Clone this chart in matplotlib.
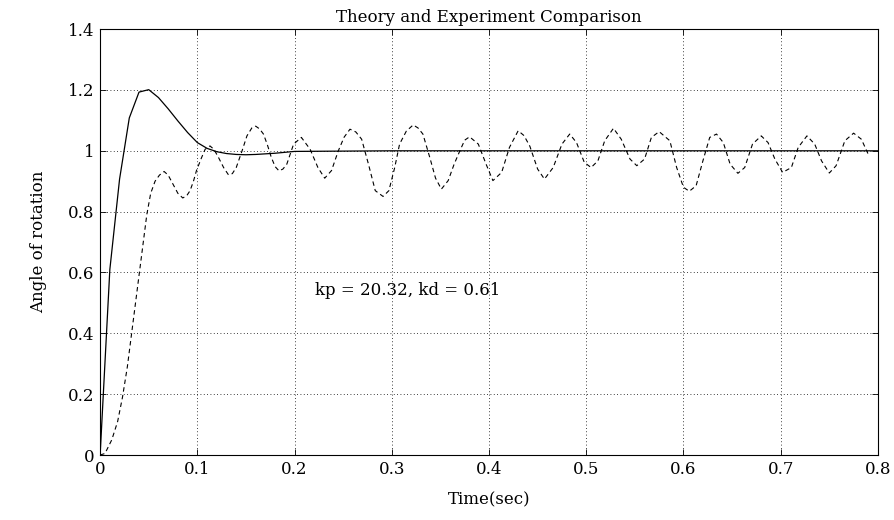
import numpy as np
import matplotlib
matplotlib.use("Agg")
import matplotlib.pyplot as plt
from matplotlib.ticker import FormatStrFormatter

# theory (solid) response
t_theory = [0.0, 0.01, 0.02, 0.03, 0.04, 0.05, 0.06, 0.07, 0.08, 0.09, 0.10,
            0.11, 0.12, 0.13, 0.14, 0.15, 0.16, 0.17, 0.18, 0.19, 0.20, 0.30,
            0.40, 0.50, 0.60, 0.70, 0.80]
y_theory = [0.0, 0.61, 0.907, 1.108, 1.193, 1.201, 1.175, 1.138, 1.098, 1.06,
            1.027, 1.008, 0.997, 0.991, 0.988, 0.987, 0.988, 0.99, 0.992, 0.995,
            0.998, 1.0, 1.0, 1.0, 1.0, 1.0, 1.0]

# experiment (dashed) response
t_exp = [0.0, 0.005, 0.012, 0.018, 0.023, 0.028, 0.032, 0.036, 0.040, 0.044,
         0.048, 0.052, 0.0565, 0.061, 0.0658, 0.070, 0.075, 0.080, 0.085, 0.089,
         0.0925, 0.096, 0.099, 0.104, 0.108, 0.113, 0.117, 0.1216, 0.127, 0.132,
         0.136, 0.140, 0.146, 0.151, 0.156, 0.160, 0.164, 0.168, 0.172, 0.176,
         0.180, 0.184, 0.188, 0.192, 0.199, 0.207, 0.216, 0.224, 0.231, 0.238,
         0.245, 0.251, 0.257, 0.263, 0.269, 0.276, 0.283, 0.291, 0.297, 0.303,
         0.308, 0.315, 0.322, 0.327, 0.332, 0.339, 0.345, 0.351, 0.358, 0.364,
         0.370, 0.375, 0.380, 0.389, 0.397, 0.404, 0.413, 0.421, 0.430, 0.436,
         0.442, 0.450, 0.457, 0.466, 0.475, 0.483, 0.490, 0.498, 0.505, 0.512,
         0.519, 0.528, 0.536, 0.545, 0.552, 0.560, 0.567, 0.575, 0.586, 0.593,
         0.600, 0.606, 0.613, 0.620, 0.627, 0.634, 0.641, 0.648, 0.656, 0.663,
         0.671, 0.680, 0.687, 0.694, 0.702, 0.711, 0.718, 0.727, 0.735, 0.742,
         0.750, 0.757, 0.766, 0.775, 0.783, 0.790]
y_exp = [0.0, 0.005, 0.05, 0.11, 0.19, 0.29, 0.39, 0.49, 0.59, 0.69,
         0.79, 0.86, 0.90, 0.92, 0.932, 0.92, 0.89, 0.86, 0.845, 0.852,
         0.869, 0.90, 0.934, 0.975, 1.005, 1.016, 1.005, 0.979, 0.945, 0.921,
         0.925, 0.945, 1.0, 1.049, 1.075, 1.081, 1.072, 1.055, 1.02, 0.979,
         0.948, 0.934, 0.94, 0.956, 1.022, 1.044, 1.005, 0.945, 0.91, 0.935,
         1.0, 1.045, 1.071, 1.062, 1.038, 0.956, 0.869, 0.85, 0.869, 0.945,
         1.022, 1.065, 1.085, 1.075, 1.055, 0.979, 0.91, 0.874, 0.902, 0.955,
         1.0, 1.035, 1.046, 1.022, 0.956, 0.902, 0.929, 1.011, 1.066, 1.05,
         1.015, 0.94, 0.907, 0.945, 1.022, 1.055, 1.027, 0.962, 0.945, 0.967,
         1.033, 1.074, 1.038, 0.973, 0.951, 0.973, 1.044, 1.063, 1.033, 0.945,
         0.88, 0.867, 0.885, 0.967, 1.044, 1.055, 1.027, 0.956, 0.926, 0.945,
         1.022, 1.049, 1.027, 0.973, 0.929, 0.945, 1.011, 1.049, 1.022, 0.967,
         0.927, 0.951, 1.033, 1.058, 1.038, 0.989]

x_ticks = [0, 0.1, 0.2, 0.3, 0.4, 0.5, 0.6, 0.7, 0.8]
y_ticks = [0, 0.2, 0.4, 0.6, 0.8, 1.0, 1.2, 1.4]

plt.rcParams['font.family'] = ['DejaVu Serif']

fig = plt.figure(figsize=(8.94, 5.2), dpi=100)
ax = fig.add_axes([0.112, 0.125, 0.870, 0.819])

ax.plot(t_theory, y_theory, color='black', linewidth=0.9)
ax.plot(t_exp, y_exp, color='black', linewidth=0.8, linestyle=(0, (4, 3)))

ax.set_xlim(0, 0.8)
ax.set_ylim(0, 1.4)
ax.set_xticks(x_ticks)
ax.set_yticks(y_ticks)
ax.xaxis.set_major_formatter(FormatStrFormatter('%g'))
ax.yaxis.set_major_formatter(FormatStrFormatter('%g'))
ax.tick_params(direction='in', length=4, width=0.6, labelsize=12,
               top=True, right=True, pad=4)
ax.grid(True, color='black', linestyle=(0, (1, 3)), linewidth=0.6)
for s in ax.spines.values():
    s.set_linewidth(0.8)

ax.text(0.221, 0.54, 'kp = 20.32, kd = 0.61', fontsize=12,
        ha='left', va='center')

ax.set_title('Theory and Experiment Comparison', fontsize=12, pad=5)
ax.set_xlabel('Time(sec)', fontsize=12, labelpad=10)
ax.set_ylabel('Angle of rotation', fontsize=12, labelpad=15)

fig.savefig('out.png', dpi=100)
